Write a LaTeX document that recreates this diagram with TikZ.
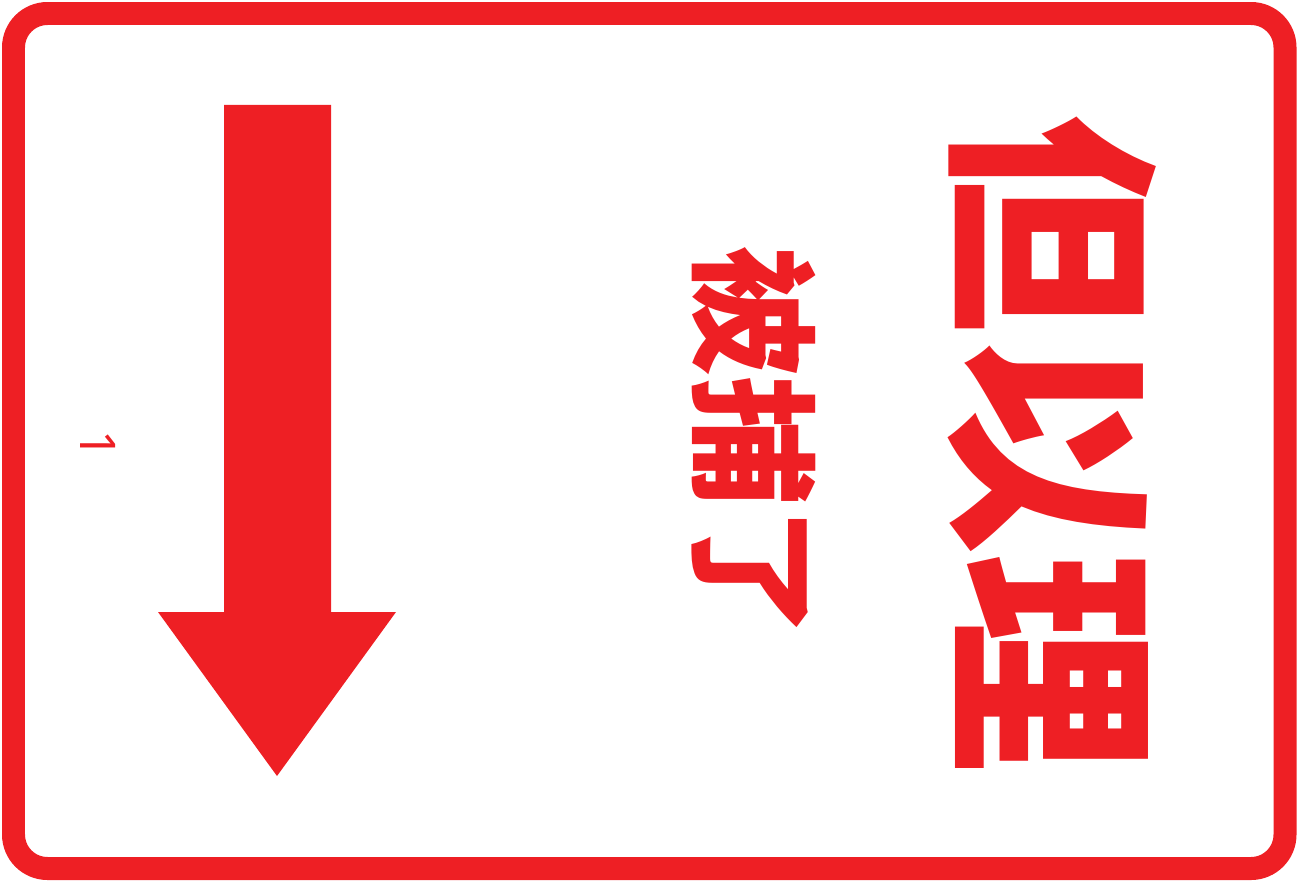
\documentclass[tikz,border=0pt]{standalone}
\usepackage{fontspec}
\newfontfamily\cjk{Noto Sans CJK SC}
\newfontfamily\numfont{Noto Sans}
\definecolor{signred}{RGB}{238,31,36}
\begin{document}
\begin{tikzpicture}[x=0.02cm,y=-0.02cm]
        \tikzstyle{frame} = [draw=signred, line width=0.46cm, rounded corners=0.68cm]
        \tikzstyle{bigarrow} = [fill=signred, draw=none]
        \tikzstyle{title} = [text=signred, rotate=-90, inner sep=0pt, font=\cjk\bfseries\fontsize{125}{125}\selectfont]
        \tikzstyle{subtitle} = [text=signred, rotate=-90, inner sep=0pt, font=\cjk\bfseries\fontsize{74}{74}\selectfont]
        \tikzstyle{pagenum} = [text=signred, rotate=-90, inner sep=0pt, font=\numfont\fontsize{28}{28}\selectfont]
        \useasboundingbox (0,0) rectangle (1304,882);
        \draw[frame] (13.5,13.5) rectangle (1285,868.5);
        \fill[bigarrow] (224,105) -- (331,105) -- (331,612) -- (396,612) -- (277,776) -- (158,612) -- (224,612) -- cycle;
        \node (name) [title] at (1052,444) {但以理};
        \node (event) [subtitle] at (754,442) {被捕了};
        \node (num) [pagenum] at (98,445) {1};
    \end{tikzpicture}
\end{document}
